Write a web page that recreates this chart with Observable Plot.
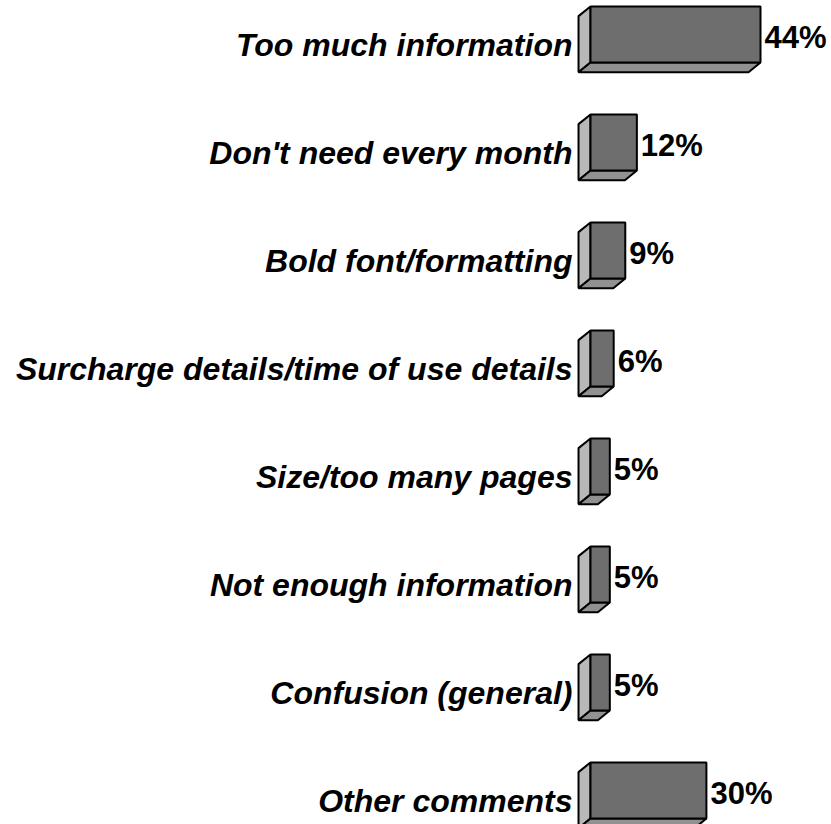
<!DOCTYPE html>
<html>
<head>
<meta charset="utf-8">
<script src="https://cdn.jsdelivr.net/npm/d3@7"></script>
<script src="https://cdn.jsdelivr.net/npm/@observablehq/plot@0.6"></script>
<style>
  html, body { margin: 0; padding: 0; background: #fff; }
  #chart svg { display: block; }
</style>
</head>
<body>
<div id="chart"></div>
<script>
const categories = [
  "Too much information",
  "Don't need every month",
  "Bold font/formatting",
  "Surcharge details/time of use details",
  "Size/too many pages",
  "Not enough information",
  "Confusion (general)",
  "Other comments"
];
const values = [44, 12, 9, 6, 5, 5, 5, 30];
const valueLabels = ["44%", "12%", "9%", "6%", "5%", "5%", "5%", "30%"];

const rows = categories.map((c, i) => ({i, category: c, value: values[i], label: valueLabels[i]}));

// 3D extrusion geometry (in data units)
const half = 0.26;      // half bar thickness (row units)
const depthX = -3.1;    // depth offset in % units
const depthY = 0.09;    // depth offset in row units

const front = [], side = [], bottom = [];
for (const r of rows) {
  const t = r.i - half, b = r.i + half;
  front.push(
    {id: r.i, x: 0, y: t}, {id: r.i, x: r.value, y: t},
    {id: r.i, x: r.value, y: b}, {id: r.i, x: 0, y: b});
  side.push(
    {id: r.i, x: 0, y: t}, {id: r.i, x: depthX, y: t + depthY},
    {id: r.i, x: depthX, y: b + depthY}, {id: r.i, x: 0, y: b});
  bottom.push(
    {id: r.i, x: 0, y: b}, {id: r.i, x: r.value, y: b},
    {id: r.i, x: r.value + depthX, y: b + depthY}, {id: r.i, x: depthX, y: b + depthY});
}

const font = "'Liberation Sans', Arial, Helvetica, sans-serif";

const plot = Plot.plot({
  width: 831,
  height: 824,
  margin: 0,
  style: {fontFamily: font, background: "#fff", overflow: "visible"},
  x: {domain: [0, 44], range: [590, 760], axis: null},
  y: {domain: [0, 7], range: [34, 790], axis: null},
  marks: [
    Plot.line(side, {x: "x", y: "y", z: "id", curve: "linear-closed",
      fill: "url(#patSide)", stroke: "#000", strokeWidth: 2, strokeLinejoin: "miter"}),
    Plot.line(bottom, {x: "x", y: "y", z: "id", curve: "linear-closed",
      fill: "url(#patBottom)", stroke: "#000", strokeWidth: 2, strokeLinejoin: "miter"}),
    Plot.line(front, {x: "x", y: "y", z: "id", curve: "linear-closed",
      fill: "url(#patFront)", stroke: "#000", strokeWidth: 2, strokeLinejoin: "miter"}),
    Plot.text(rows, {x: 0, y: "i", text: "category", textAnchor: "end", lineAnchor: "bottom",
      dx: -18, dy: 21, fontSize: 32, fontWeight: "bold", fontStyle: "italic", fill: "#000"}),
    Plot.text(rows, {x: "value", y: "i", text: "label", textAnchor: "start", lineAnchor: "bottom",
      dx: 4, dy: 13, fontSize: 31, fontWeight: "bold", fill: "#000"})
  ]
});

// checkerboard dither patterns
const ns = "http://www.w3.org/2000/svg";
const defs = document.createElementNS(ns, "defs");
function pat(id, c1, c2) {
  const p = document.createElementNS(ns, "pattern");
  p.setAttribute("id", id);
  p.setAttribute("width", "2");
  p.setAttribute("height", "2");
  p.setAttribute("patternUnits", "userSpaceOnUse");
  const cells = [[0,0,c1],[1,1,c1],[1,0,c2],[0,1,c2]];
  for (const [x, y, c] of cells) {
    const r = document.createElementNS(ns, "rect");
    r.setAttribute("x", x); r.setAttribute("y", y);
    r.setAttribute("width", 1); r.setAttribute("height", 1);
    r.setAttribute("fill", c);
    p.appendChild(r);
  }
  defs.appendChild(p);
}
pat("patFront", "#1e1e1e", "#bdbdbd");
pat("patSide", "#8a8a8a", "#e6e6e6");
pat("patBottom", "#4a4a4a", "#d8d8d8");
plot.insertBefore(defs, plot.firstChild);

document.getElementById("chart").appendChild(plot);
</script>
</body>
</html>
